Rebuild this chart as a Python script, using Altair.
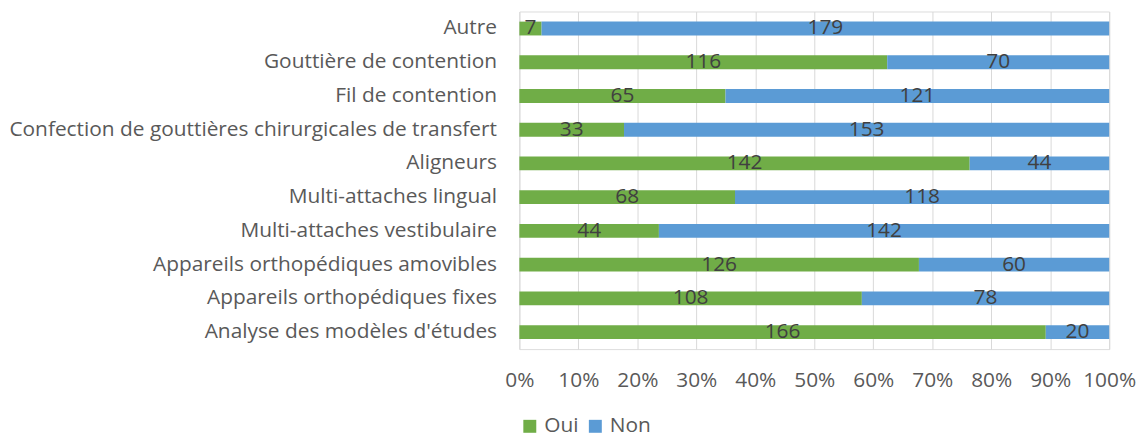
import altair as alt
import pandas as pd

categories = [
    "Autre",
    "Gouttière de contention",
    "Fil de contention",
    "Confection de gouttières chirurgicales de transfert",
    "Aligneurs",
    "Multi-attaches lingual",
    "Multi-attaches vestibulaire",
    "Appareils orthopédiques amovibles",
    "Appareils orthopédiques fixes",
    "Analyse des modèles d'études",
]
oui = [7, 116, 65, 33, 142, 68, 44, 126, 108, 166]
non = [179, 70, 121, 153, 44, 118, 142, 60, 78, 20]
series = ["Oui", "Non"]
colors = ["#70AD47", "#5B9BD5"]
ticks = [0, 0.1, 0.2, 0.3, 0.4, 0.5, 0.6, 0.7, 0.8, 0.9, 1.0]

rows = []
for c, o, n in zip(categories, oui, non):
    rows.append({"cat": c, "serie": "Oui", "value": o, "ord": 0})
    rows.append({"cat": c, "serie": "Non", "value": n, "ord": 1})
df = pd.DataFrame(rows)

FONT = "Open Sans"
FS = 21
TXT = "#595959"

base = alt.Chart(df).transform_stack(
    stack="value", groupby=["cat"], as_=["s0", "s1"], offset="normalize",
    sort=[alt.SortField("ord", order="ascending")],
).transform_calculate(mid="(datum.s0 + datum.s1) / 2")

y = alt.Y("cat:N", sort=categories, title=None,
          scale=alt.Scale(paddingInner=0.59, paddingOuter=0.3),
          axis=alt.Axis(domain=False, ticks=False, labelFontSize=FS,
                        labelColor=TXT, labelFont=FONT, labelPadding=23,
                        labelLimit=700))

bars = base.mark_bar(stroke=None).encode(
    y=y,
    x=alt.X("s0:Q", title=None, scale=alt.Scale(domain=[0, 1]),
            axis=alt.Axis(format="%", values=ticks, labelOverlap=False,
                          labelFlush=False,
                          grid=True, gridColor="#D9D9D9", domain=False,
                          ticks=False, labelFontSize=FS, labelColor=TXT,
                          labelFont=FONT, labelPadding=21)),
    x2="s1:Q",
    color=alt.Color("serie:N", sort=series,
                    scale=alt.Scale(domain=series, range=colors),
                    legend=alt.Legend(title=None, orient="bottom",
                                      direction="horizontal",
                                      symbolType="square", symbolSize=170,
                                      symbolStrokeWidth=0,
                                      labelFontSize=FS, labelColor=TXT,
                                      labelFont=FONT, columnPadding=6,
                                      labelOffset=4, offset=25)),
    order=alt.Order("ord:Q"),
)

labels = base.mark_text(fontSize=FS, font=FONT, color="#404040").encode(
    y=alt.Y("cat:N", sort=categories),
    x=alt.X("mid:Q"),
    text=alt.Text("value:Q"),
)

chart = alt.layer(bars, labels).properties(
    width=594, height=340,
    padding={"top": 2, "left": 0, "right": 0, "bottom": 0},
).configure_view(stroke=None).configure(background="white")

chart.save("out.html", embed_options={"renderer": "svg", "actions": False})
